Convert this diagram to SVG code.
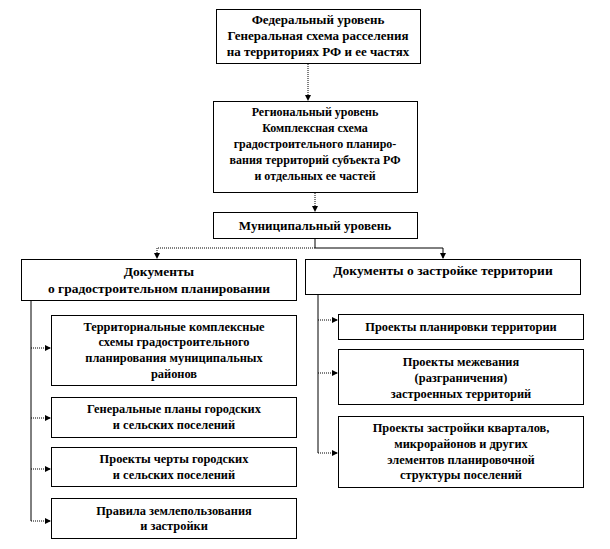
<svg xmlns="http://www.w3.org/2000/svg" width="610" height="549" viewBox="0 0 610 549">
<defs>
<marker id="ah" markerWidth="6" markerHeight="6" refX="5" refY="3" orient="auto" markerUnits="userSpaceOnUse">
<path d="M0,0 L6,3 L0,6 Z" fill="#000"/>
</marker>
<style>
.box{fill:#fff;stroke:#000;stroke-width:1}
.t{font-family:"Liberation Serif","Times New Roman",serif;font-size:12.4px;font-weight:bold;text-anchor:middle;fill:#000}
.h{font-size:13.5px}
.m{font-size:13px}
.r{font-size:12px}
.dot{stroke:#000;stroke-width:1;stroke-dasharray:1 1;fill:none}
.sol{stroke:#000;stroke-width:1;fill:none}
</style>
</defs>
<rect width="610" height="549" fill="#fff"/>
<g id="connectors">
<line class="dot" x1="308" y1="64" x2="308" y2="100" marker-end="url(#ah)"/>
<line class="dot" x1="315" y1="193" x2="315" y2="211" marker-end="url(#ah)"/>
<line class="sol" x1="315" y1="238" x2="315" y2="248"/>
<polyline class="dot" points="315,248 157,248 157,258" marker-end="url(#ah)"/>
<polyline class="sol" points="315,248 443,248 443,258" marker-end="url(#ah)"/>
<line class="sol" x1="31" y1="300" x2="31" y2="521"/>
<line class="dot" x1="31" y1="348" x2="50" y2="348" marker-end="url(#ah)"/>
<line class="dot" x1="31" y1="418" x2="50" y2="418" marker-end="url(#ah)"/>
<line class="dot" x1="31" y1="469" x2="50" y2="469" marker-end="url(#ah)"/>
<line class="dot" x1="31" y1="521" x2="50" y2="521" marker-end="url(#ah)"/>
<line class="sol" x1="318" y1="294" x2="318" y2="453"/>
<line class="dot" x1="318" y1="320" x2="337" y2="320" marker-end="url(#ah)"/>
<line class="dot" x1="318" y1="373" x2="337" y2="373" marker-end="url(#ah)"/>
<line class="dot" x1="318" y1="453" x2="337" y2="453" marker-end="url(#ah)"/>
</g>
<g id="federal">
<rect class="box" x="216.5" y="9.5" width="204" height="54"/>
<text class="t m" x="318" y="24">Федеральный  уровень</text>
<text class="t m" x="318" y="40">Генеральная схема расселения</text>
<text class="t m" x="318" y="56">на территориях  РФ и ее частях</text>
</g>
<g id="regional">
<rect class="box" x="213.5" y="101.5" width="204" height="91"/>
<text class="t r" x="315" y="116">Региональный  уровень</text>
<text class="t r" x="315" y="132">Комплексная схема</text>
<text class="t r" x="315" y="148">градостроительного  планиро-</text>
<text class="t r" x="315" y="164">вания территорий субъекта РФ</text>
<text class="t r" x="315" y="180">и отдельных  ее частей</text>
</g>
<g id="municipal">
<rect class="box" x="213.5" y="212.5" width="204" height="26"/>
<text class="t m" x="315" y="230">Муниципальный  уровень</text>
</g>
<g id="docs-planning">
<rect class="box" x="21.5" y="259.5" width="275" height="41"/>
<text class="t h" x="159" y="276">Документы</text>
<text class="t h" x="159" y="293">о градостроительном планировании</text>
</g>
<g id="docs-building">
<rect class="box" x="305.5" y="259.5" width="275" height="35"/>
<text class="t h" x="443" y="275">Документы о застройке территории</text>
</g>
<g id="l1">
<rect class="box" x="51.5" y="315.5" width="245" height="70"/>
<text class="t" x="174" y="331">Территориальные комплексные</text>
<text class="t" x="174" y="346">схемы градостроительного</text>
<text class="t" x="174" y="362">планирования муниципальных</text>
<text class="t" x="174" y="378">районов</text>
</g>
<g id="l2">
<rect class="box" x="51.5" y="397.5" width="245" height="40"/>
<text class="t" x="174" y="413">Генеральные планы городских</text>
<text class="t" x="174" y="429">и сельских  поселений</text>
</g>
<g id="l3">
<rect class="box" x="51.5" y="447.5" width="245" height="39"/>
<text class="t" x="174" y="463">Проекты черты городских</text>
<text class="t" x="174" y="479">и сельских  поселений</text>
</g>
<g id="l4">
<rect class="box" x="51.5" y="498.5" width="245" height="40"/>
<text class="t" x="174" y="515">Правила землепользования</text>
<text class="t" x="174" y="530">и застройки</text>
</g>
<g id="r1">
<rect class="box" x="338.5" y="314.5" width="245" height="25"/>
<text class="t" x="461" y="331">Проекты планировки территории</text>
</g>
<g id="r2">
<rect class="box" x="338.5" y="349.5" width="245" height="55"/>
<text class="t" x="461" y="366">Проекты межевания</text>
<text class="t" x="461" y="382">(разграничения)</text>
<text class="t" x="461" y="398">застроенных территорий</text>
</g>
<g id="r3">
<rect class="box" x="338.5" y="416.5" width="245" height="71"/>
<text class="t" x="461" y="432">Проекты застройки кварталов,</text>
<text class="t" x="461" y="448">микрорайонов и других</text>
<text class="t" x="461" y="464">элементов планировочной</text>
<text class="t" x="461" y="479">структуры поселений</text>
</g>
</svg>
